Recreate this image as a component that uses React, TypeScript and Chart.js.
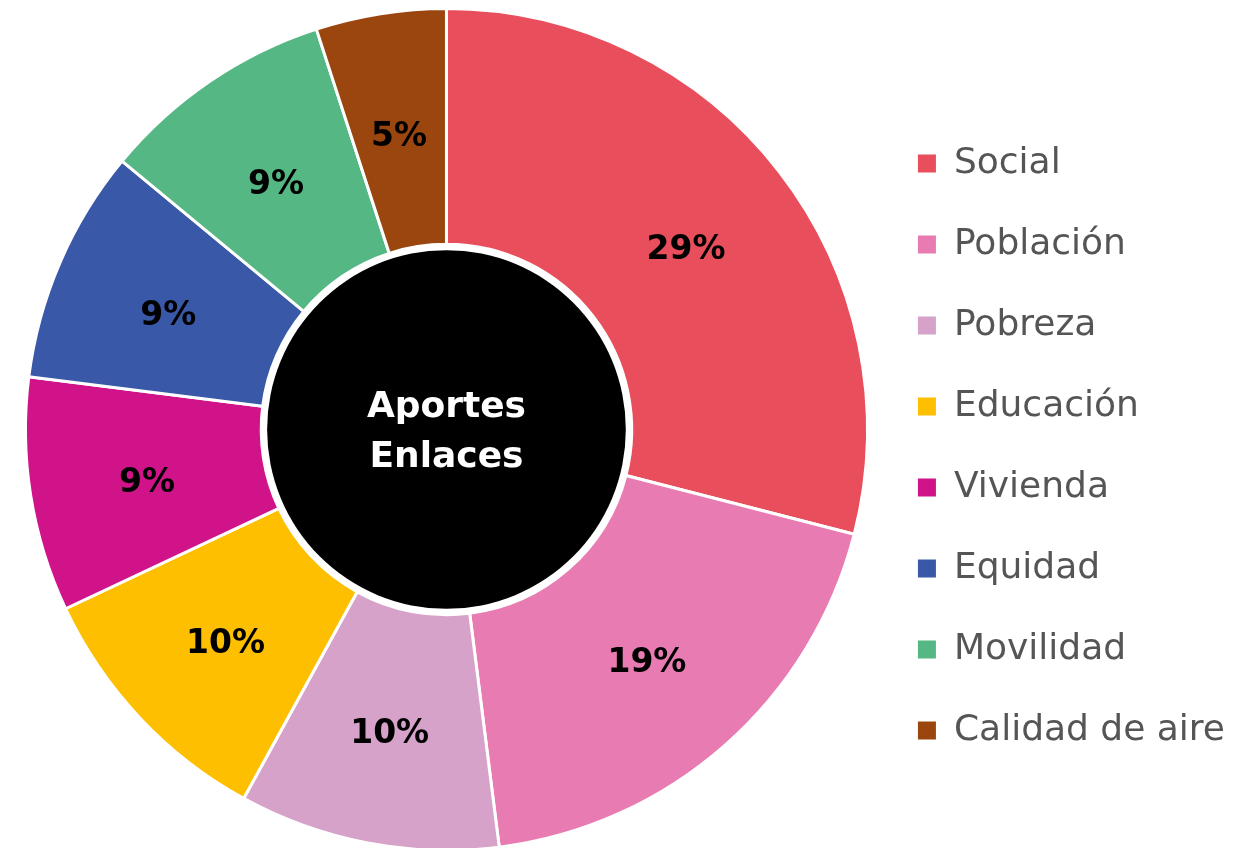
import React, { useEffect, useRef } from "react";
import { Chart, registerables } from "chart.js";

Chart.register(...registerables);

const categories = ["Social", "Población", "Pobreza", "Educación", "Vivienda", "Equidad", "Movilidad", "Calidad de aire"];
const values = [29, 19, 10, 10, 9, 9, 9, 5];
const colors = ["#E84E5B", "#E87BB1", "#D6A2C9", "#FDBF00", "#D1138A", "#3A58A8", "#55B783", "#9B460F"];
const centerLines = ["Aportes", "Enlaces"];

const FONT = "'DejaVu Sans', sans-serif";

const centerPlugin = {
  id: "centerAndLabels",
  afterDatasetsDraw(chart: any) {
    const meta = chart.getDatasetMeta(0);
    const arcs = meta.data;
    if (!arcs.length) return;
    const ctx = chart.ctx;
    const cx = arcs[0].x;
    const cy = arcs[0].y;
    const outer = arcs[0].outerRadius;
    ctx.save();
    // black center disc
    ctx.beginPath();
    ctx.arc(cx, cy, outer * 0.426, 0, Math.PI * 2);
    ctx.fillStyle = "#000";
    ctx.fill();
    ctx.fillStyle = "#fff";
    ctx.font = `bold 36px ${FONT}`;
    ctx.textAlign = "center";
    ctx.textBaseline = "middle";
    ctx.fillText(centerLines[0], cx, cy - 22);
    ctx.fillText(centerLines[1], cx, cy + 28);
    // percentage labels
    ctx.fillStyle = "#000";
    ctx.font = `bold 33px ${FONT}`;
    arcs.forEach((arc: any, i: number) => {
      const p = arc.tooltipPosition();
      ctx.fillText(`${values[i]}%`, p.x, p.y + 7);
    });
    ctx.restore();
  },
};

export default function App() {
  const ref = useRef<HTMLCanvasElement | null>(null);
  useEffect(() => {
    if (!ref.current) return;
    const chart = new Chart(ref.current, {
      type: "doughnut",
      data: {
        labels: categories,
        datasets: [
          {
            data: values,
            backgroundColor: colors,
            borderColor: "#ffffff",
            borderWidth: 3,
            radius: 421,
            cutout: "44%",
          } as any,
        ],
      },
      options: {
        animation: false,
        responsive: true,
        maintainAspectRatio: false,
        layout: { padding: { top: 11, bottom: 0, left: 20, right: 4 } },
        plugins: {
          tooltip: { enabled: false },
          legend: {
            position: "right",
            title: {
              display: true,
              text: "",
              font: { size: 10, lineHeight: 1 },
              padding: { top: 25, bottom: 0 },
            },
            labels: {
              boxWidth: 18,
              boxHeight: 18,
              padding: 45,
              color: "#555555",
              font: { family: FONT, size: 36 },
              generateLabels: () =>
                categories.map((c, i) => ({
                  text: c,
                  fillStyle: colors[i],
                  strokeStyle: colors[i],
                  lineWidth: 0,
                  hidden: false,
                  index: i,
                  fontColor: "#555555",
                })),
            },
          },
        },
      } as any,
      plugins: [centerPlugin],
    });
    return () => chart.destroy();
  }, []);
  return (
    <div style={{ position: "absolute", left: 0, top: 0, width: 1239, height: 848, background: "#fff" }}>
      <canvas ref={ref} />
    </div>
  );
}
